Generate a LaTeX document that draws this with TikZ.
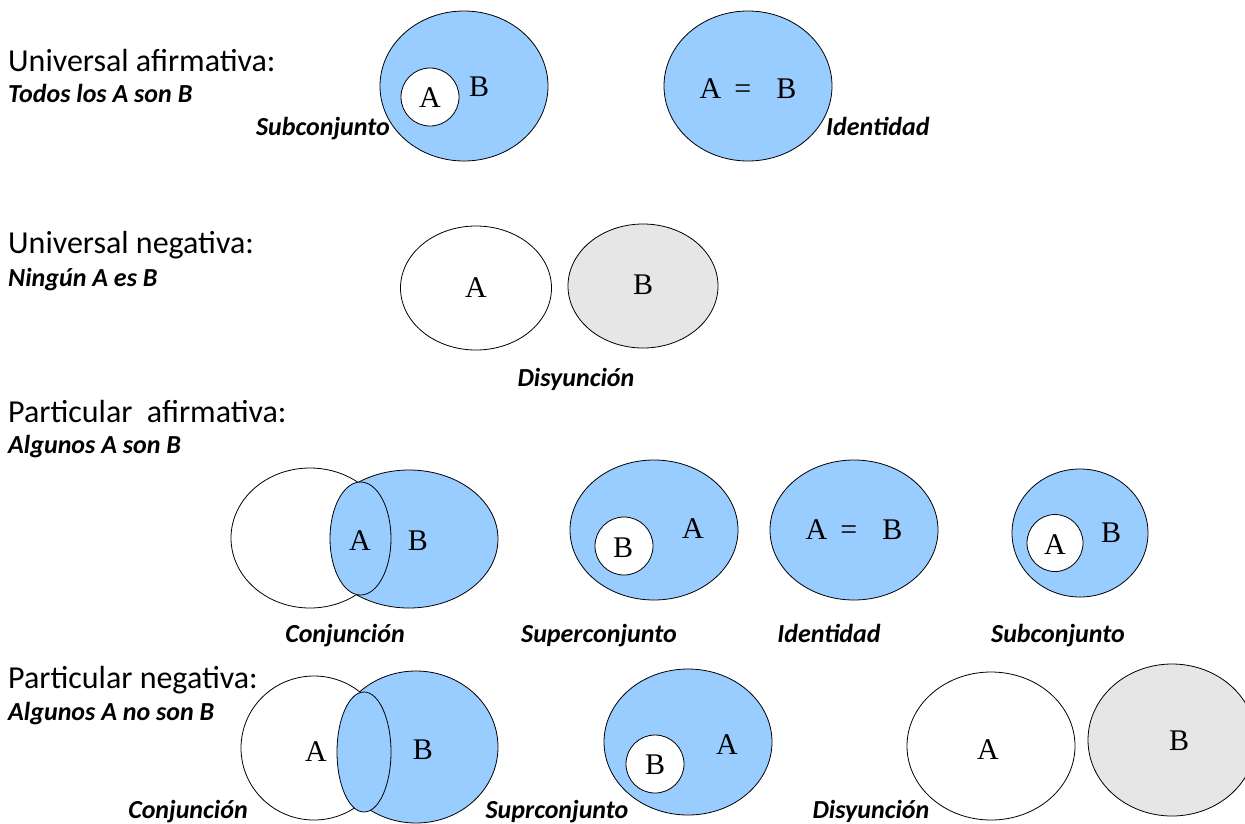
\documentclass[tikz,border=0pt]{standalone}
\usepackage{fontspec}
\setmainfont{Carlito}
\newfontfamily\lettfont{Liberation Serif}
\usetikzlibrary{shapes.geometric}
\definecolor{setblue}{HTML}{99CCFF}
\definecolor{setgray}{HTML}{E6E6E6}
\tikzset{
  setshape/.style={ellipse, draw=black, line width=0.8pt, inner sep=0pt},
  blueset/.style={setshape, fill=setblue},
  whiteset/.style={setshape, fill=white},
  grayset/.style={setshape, fill=setgray},
  lett/.style={inner sep=0pt, font=\lettfont\fontsize{30}{30}\selectfont},
  headtxt/.style={anchor=base west, inner sep=0pt, font=\fontsize{32}{34}\selectfont},
  subtxt/.style={anchor=base west, inner sep=0pt, font=\bfseries\itshape\fontsize{26}{28}\selectfont},
  diaglabel/.style={anchor=base, inner sep=0pt, font=\bfseries\itshape\fontsize{26}{28}\selectfont},
}
\begin{document}
\begin{tikzpicture}[x=1pt, y=-1pt]
\clip (0,0) rectangle (1245,823);
\fill[white] (0,0) rectangle (1245,823);

% ---------- Universal afirmativa ----------
\node[headtxt] (h1) at (8,71) {Universal afirmativa:};
\node[subtxt] (s1) at (8,102) {Todos los A son B};

\node[blueset, minimum width=168pt, minimum height=150pt] (ua1) at (464,86) {};
\node[whiteset, minimum width=58pt, minimum height=58pt] (ua1a) at (430,97) {};
\node[lett] (ua1la) at (430,98) {A};
\node[lett] (ua1lb) at (479,87) {B};
\node[diaglabel, anchor=base east] (ua1c) at (390,135) {Subconjunto};

\node[blueset, minimum width=168pt, minimum height=150pt] (ua2) at (748,86) {};
\node[lett] (ua2l) at (748,88.5) {A\hspace{13pt}=\hspace{25pt}B};
\node[diaglabel, anchor=base west] (ua2c) at (826,135) {Identidad};

% ---------- Universal negativa ----------
\node[headtxt] (h2) at (8,253) {Universal negativa:};
\node[subtxt] (s2) at (8,286) {Ningún A es B};

\node[whiteset, minimum width=151pt, minimum height=124pt] (un1) at (476,288) {};
\node[grayset, minimum width=150pt, minimum height=124pt] (un2) at (643,286) {};
\node[lett] (un1l) at (476,288) {A};
\node[lett] (un2l) at (643,285) {B};
\node[diaglabel] (unc) at (576,386) {Disyunción};

% ---------- Particular afirmativa ----------
\node[headtxt] (h3) at (8,422) {Particular\ \ afirmativa:};
\node[subtxt] (s3) at (8,453) {Algunos A son B};

\node[blueset, minimum width=178pt, minimum height=138pt] (pa1b) at (409,539) {};
\node[whiteset, minimum width=158pt, minimum height=140pt] (pa1a) at (310,538) {};
\node[blueset, minimum width=61pt, minimum height=113pt] (pa1l) at (360.5,538.5) {};
\node[lett] (pa1la) at (360,541) {A};
\node[lett] (pa1lb) at (418,541) {B};
\node[diaglabel] (pa1c) at (345,642) {Conjunción};

\node[blueset, minimum width=168pt, minimum height=140pt] (pa2) at (654,530) {};
\node[whiteset, minimum width=58pt, minimum height=58pt] (pa2b) at (624,546) {};
\node[lett] (pa2lb) at (623,548) {B};
\node[lett] (pa2la) at (693,529) {A};
\node[diaglabel] (pa2c) at (599,642) {Superconjunto};

\node[blueset, minimum width=168pt, minimum height=140pt] (pa3) at (854,530) {};
\node[lett] (pa3l) at (854,530) {A\hspace{13pt}=\hspace{25pt}B};
\node[diaglabel] (pa3c) at (829,642) {Identidad};

\node[blueset, minimum width=136pt, minimum height=128pt] (pa4) at (1080,533) {};
\node[whiteset, minimum width=56pt, minimum height=57pt] (pa4a) at (1055,543) {};
\node[lett] (pa4la) at (1055,545) {A};
\node[lett] (pa4lb) at (1111,533) {B};
\node[diaglabel] (pa4c) at (1058,642) {Subconjunto};

% ---------- Particular negativa ----------
\node[headtxt] (h4) at (8,688) {Particular negativa:};
\node[subtxt] (s4) at (8,720) {Algunos A no son B};

\node[blueset, minimum width=164pt, minimum height=152pt] (pn1b) at (416,747) {};
\node[whiteset, minimum width=146pt, minimum height=144pt] (pn1a) at (314,748) {};
\node[blueset, minimum width=54pt, minimum height=120pt] (pn1l) at (364,752) {};
\node[lett] (pn1la) at (316,752) {A};
\node[lett] (pn1lb) at (423,750) {B};
\node[diaglabel] (pn1c) at (188,818) {Conjunción};

\node[blueset, minimum width=168pt, minimum height=146pt] (pn2) at (688,742) {};
\node[whiteset, minimum width=58pt, minimum height=58pt] (pn2b) at (655,764) {};
\node[lett] (pn2lb) at (655,765) {B};
\node[lett] (pn2la) at (727,745) {A};
\node[diaglabel] (pn2c) at (557,818) {Suprconjunto};

\node[whiteset, minimum width=168pt, minimum height=148pt] (pn3a) at (991,746) {};
\node[grayset, minimum width=168pt, minimum height=152pt] (pn3b) at (1172,740) {};
\node[lett] (pn3la) at (988,750) {A};
\node[lett] (pn3lb) at (1179,741) {B};
\node[diaglabel] (pn3c) at (871,818) {Disyunción};
\end{tikzpicture}
\end{document}
